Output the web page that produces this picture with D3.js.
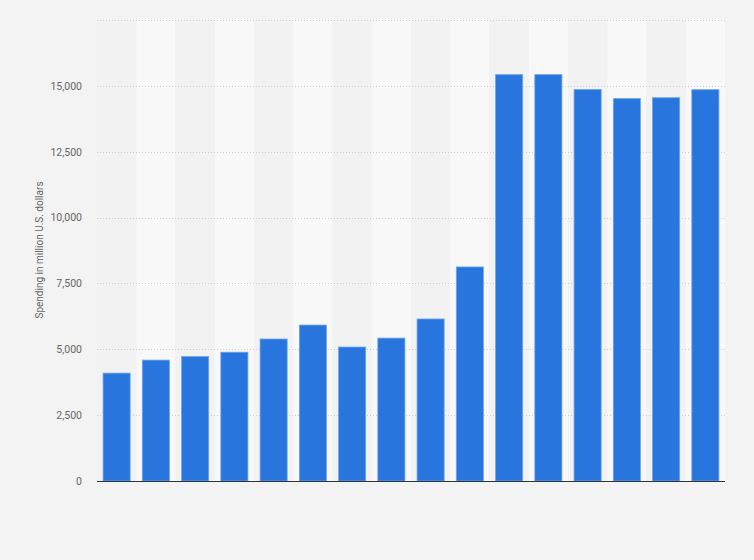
<!DOCTYPE html>
<html>
<head>
<meta charset="utf-8">
<script src="https://cdn.jsdelivr.net/npm/d3@7"></script>
<style>
  body { margin: 0; background: #f3f3f3; }
  svg { display: block; font-family: Roboto, "Liberation Sans", sans-serif; }
</style>
</head>
<body>
<div id="chart"></div>
<script>
// data (million U.S. dollars)
const categories = ["1", "2", "3", "4", "5", "6", "7", "8", "9", "10", "11", "12", "13", "14", "15", "16"];
const spending = [4095, 4590, 4725, 4890, 5390, 5920, 5085, 5425, 6150, 8125, 15425, 15425, 14865, 14515, 14550, 14855];
const yTicks = [0, 2500, 5000, 7500, 10000, 12500, 15000, 17500];

const W = 754, H = 560;
const margin = {top: 20, right: 29, bottom: 79, left: 97},
    width = W - margin.left - margin.right,
    height = H - margin.top - margin.bottom;

const root = d3.select("#chart")
  .append("svg")
    .attr("width", W)
    .attr("height", H);

root.append("rect")
  .attr("width", W).attr("height", H)
  .attr("fill", "#f3f3f3");

const svg = root.append("g")
  .attr("transform", `translate(${margin.left}, ${margin.top})`);

// scales
const x = d3.scaleBand()
  .domain(categories)
  .range([0, width])
  .paddingInner(0.31)
  .paddingOuter(0.155);

const y = d3.scaleLinear()
  .domain([0, 17500])
  .range([height, 0]);

// alternating column bands
const step = x.step();
svg.selectAll("rect.band")
  .data(categories)
  .join("rect")
    .attr("class", "band")
    .attr("x", d => x(d) - x.bandwidth() * 0 - (step - x.bandwidth()) / 2)
    .attr("y", 0)
    .attr("width", step)
    .attr("height", height)
    .attr("fill", (d, i) => i % 2 ? "#f8f8f8" : "#f2f2f2");

// grid lines
svg.append("g")
  .selectAll("line")
  .data(yTicks.filter(d => d > 0))
  .join("line")
    .attr("x1", 0)
    .attr("x2", width)
    .attr("y1", d => Math.round(y(d)) + 0.5)
    .attr("y2", d => Math.round(y(d)) + 0.5)
    .attr("stroke", "#cfcfcf")
    .attr("stroke-dasharray", "1,2");

// y axis labels (no top label)
const yAxis = svg.append("g")
  .call(d3.axisLeft(y).tickValues(yTicks.slice(0, -1)).tickSize(0).tickPadding(15)
    .tickFormat(d3.format(",")));
yAxis.select(".domain").remove();
yAxis.selectAll("text")
  .attr("fill", "#666")
  .attr("font-size", "10.5px")
  .attr("font-family", "Roboto, 'Liberation Sans', sans-serif");

// bars
svg.selectAll("rect.bar")
  .data(spending)
  .join("rect")
    .attr("class", "bar")
    .attr("x", (d, i) => x(categories[i]))
    .attr("y", d => y(d))
    .attr("width", x.bandwidth())
    .attr("height", d => height - y(d))
    .attr("fill", "#2876dd")
    .attr("stroke", "#6fa3e8")
    .attr("stroke-width", 0.8);

// baseline
svg.append("line")
  .attr("x1", 0)
  .attr("x2", width)
  .attr("y1", height + 0.5)
  .attr("y2", height + 0.5)
  .attr("stroke", "#333")
  .attr("stroke-width", 1);

// y axis title
svg.append("text")
  .attr("transform", "rotate(-90)")
  .attr("x", -(250 - margin.top))
  .attr("y", 40 - margin.left + 3)
  .attr("text-anchor", "middle")
  .attr("fill", "#666")
  .attr("font-size", "10px")
  .text("Spending in million U.S. dollars");
</script>
</body>
</html>
